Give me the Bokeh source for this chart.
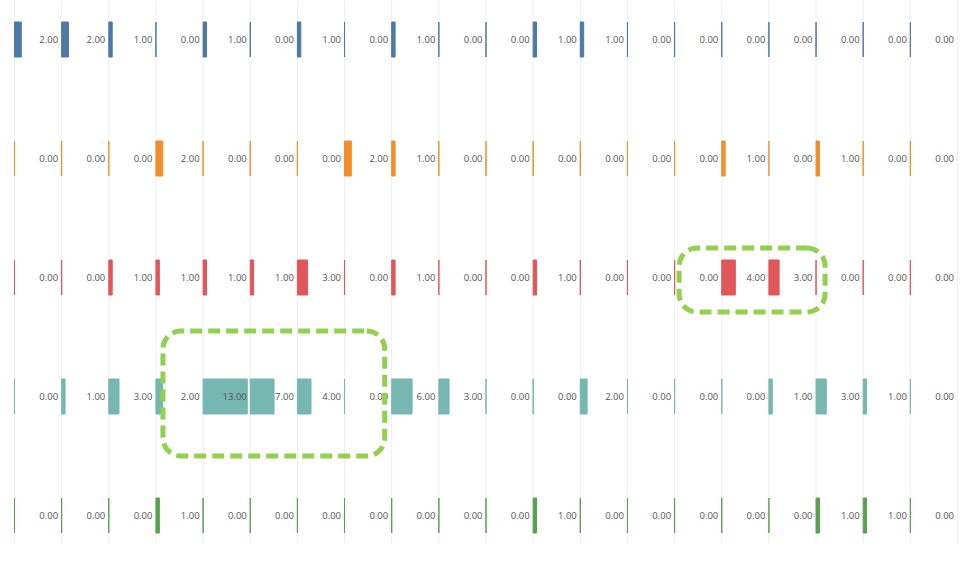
import math
from bokeh.plotting import figure
from bokeh.models import Range1d, ColumnDataSource
from bokeh.embed import file_html
from bokeh.resources import INLINE
from bokeh.core.properties import value

# ---------------- data ----------------
series_colors = ["#4e79a7", "#f28e2b", "#e15759", "#76b7b2", "#59a14f"]
blue = [2, 2, 1, 0, 1, 0, 1, 0, 1, 0, 0, 1, 1, 0, 0, 0, 0, 0, 0, 0]
orange = [0, 0, 0, 2, 0, 0, 0, 2, 1, 0, 0, 0, 0, 0, 0, 1, 0, 1, 0, 0]
red = [0, 0, 1, 1, 1, 1, 3, 0, 1, 0, 0, 1, 0, 0, 0, 4, 3, 0, 0, 0]
teal = [0, 1, 3, 2, 13, 7, 4, 0, 6, 3, 0, 0, 2, 0, 0, 0, 1, 3, 1, 0]
green = [0, 0, 0, 1, 0, 0, 0, 0, 0, 0, 0, 1, 0, 0, 0, 0, 0, 1, 1, 0]
rows = [blue, orange, red, teal, green]

# highlight boxes: (first column, last column boundary, row)
highlights = [(3, 8, 3), (14, 17, 2)]

# ---------------- layout ----------------
FIG_W, FIG_H = 979, 543
PX_PER_UNIT = 3.4          # horizontal pixels per value unit
COL_PX = 47.15             # width of a column cell in pixels
LEFT_PX = 14               # first column boundary (figure pixels)
ROW_PX = 119               # row pitch in pixels
TOP_PX = 39                # first row centre (figure pixels)
BAR_PX = 35

W = COL_PX / PX_PER_UNIT
x0 = -LEFT_PX / PX_PER_UNIT
x1 = x0 + FIG_W / PX_PER_UNIT
y_top = -TOP_PX / ROW_PX
y_bot = y_top + FIG_H / ROW_PX

p = figure(width=FIG_W, height=FIG_H, x_range=Range1d(x0, x1),
           y_range=Range1d(y_bot, y_top), toolbar_location=None,
           output_backend="svg", x_axis_type=None, y_axis_type=None,
           min_border=0)
p.xgrid.visible = False
p.ygrid.visible = False
p.outline_line_color = None
p.background_fill_color = "white"
p.border_fill_color = "white"

ncols = len(blue)

# column separators
xs = [j * W for j in range(ncols + 1)]
p.segment(x0=xs, y0=[y_top] * len(xs), x1=xs, y1=[y_bot] * len(xs),
          line_color="#eeeeee", line_width=1)

half = BAR_PX / ROW_PX / 2
for i, vals in enumerate(rows):
    src = ColumnDataSource(dict(
        left=[j * W for j in range(ncols)],
        right=[j * W + v for j, v in enumerate(vals)],
        top=[i - half] * ncols,
        bottom=[i + half] * ncols,
    ))
    p.quad(left="left", right="right", top="top", bottom="bottom", source=src,
           fill_color=series_colors[i], line_color=series_colors[i], line_width=1)

for i, vals in enumerate(rows):
    p.text(x=[(j + 1) * W for j in range(ncols)], y=[i] * ncols,
           text=["%.2f" % v for v in vals], text_align="right",
           text_baseline="middle", x_offset=-3.5,
           text_font=value("Open Sans"), text_font_size=value("9.5px"),
           text_color="#555555")


def px_to_x(px):
    return x0 + px / PX_PER_UNIT


def py_to_y(py):
    return y_top + py / ROW_PX


def rounded_box(lpx, rpx, tpx, bpx, r):
    pts = []
    corners = [
        (rpx - r, tpx + r, -90, 0),
        (rpx - r, bpx - r, 0, 90),
        (lpx + r, bpx - r, 90, 180),
        (lpx + r, tpx + r, 180, 270),
    ]
    for cx, cy, a0, a1 in corners:
        for k in range(13):
            a = math.radians(a0 + (a1 - a0) * k / 12)
            pts.append((cx + r * math.cos(a), cy + r * math.sin(a)))
    pts.append(pts[0])
    return [px_to_x(a) for a, b in pts], [py_to_y(b) for a, b in pts]


box_pads = [(7, -7, -65.5, 59.5), (4.5, 9, -29.5, 34.5)]
for (c0, c1, r), (pl, pr, pt, pb) in zip(highlights, box_pads):
    lpx = LEFT_PX + c0 * COL_PX + pl
    rpx = LEFT_PX + c1 * COL_PX + pr
    cy = TOP_PX + r * ROW_PX
    bx, by = rounded_box(lpx, rpx, cy + pt, cy + pb, 18)
    p.line(bx, by, line_color="#92d050", line_width=5, line_dash="12 6")

open("out.html", "w").write(file_html(p, INLINE))
